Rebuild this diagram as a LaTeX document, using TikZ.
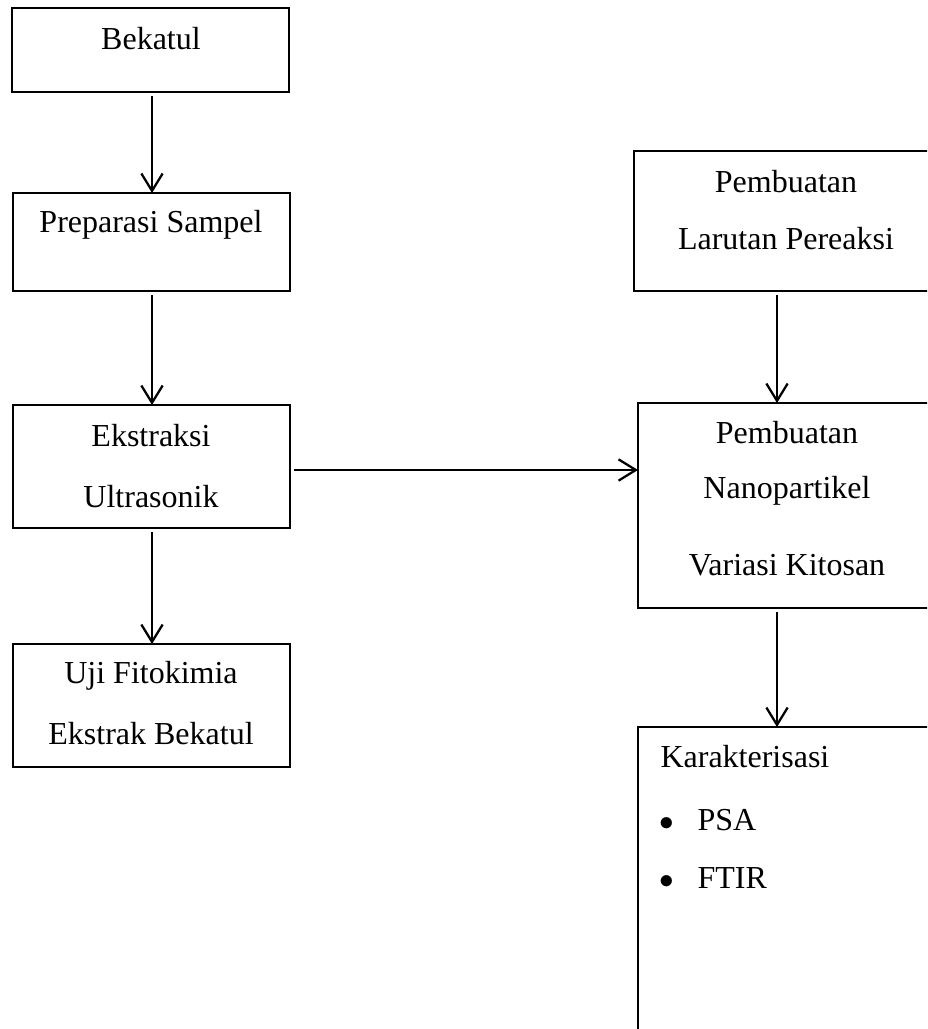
\documentclass[tikz,border=0pt]{standalone}
\usepackage{fontspec}
\setmainfont{Liberation Serif}
\usetikzlibrary{arrows.meta}
\newcommand{\px}{0.375pt}

\begin{document}
\begin{tikzpicture}[x=\px, y=-\px,
  box/.style={draw, line width=1pt, rectangle, inner sep=0pt, outer sep=0pt, anchor=north west},
  txt/.style={anchor=base, inner sep=0pt, font=\fontsize{12}{14}\selectfont},
  flow/.style={line width=0.85pt, -{Straight Barb[length=6.5pt, width=8pt, line width=0.85pt]}, shorten <=1.5pt}]
\useasboundingbox (0, 0) rectangle (927, 1029);
\clip (0, 0) rectangle (927, 1029);
\node[box, minimum width=277*\px, minimum height=84*\px] (bekatul) at (12, 8) {};
\node[txt] (tbekatul) at (151, 50) {Bekatul};
\node[box, minimum width=277*\px, minimum height=98*\px] (preparasi) at (13, 193) {};
\node[txt] (tpreparasi) at (151, 233) {Preparasi Sampel};
\node[box, minimum width=277*\px, minimum height=123*\px] (ekstraksi) at (13, 405) {};
\node[txt] (tekstraksi) at (151, 446) {Ekstraksi};
\node[txt] (tultrasonik) at (151, 507) {Ultrasonik};
\node[box, minimum width=277*\px, minimum height=123*\px] (uji) at (13, 644) {};
\node[txt] (tuji) at (151, 683) {Uji Fitokimia};
\node[txt] (tekstrak) at (151, 744) {Ekstrak Bekatul};
\node[box, minimum width=302*\px, minimum height=140*\px] (larutan) at (634, 151) {};
\node[txt] (tpembuatana) at (786, 193) {Pembuatan};
\node[txt] (tlarutan) at (786, 250) {Larutan Pereaksi};
\node[box, minimum width=298*\px, minimum height=205*\px] (nano) at (638, 403) {};
\node[txt] (tpembuatanb) at (787, 443) {Pembuatan};
\node[txt] (tnano) at (787, 498) {Nanopartikel};
\node[txt] (tvariasi) at (787, 575) {Variasi Kitosan};
\node[box, minimum width=298*\px, minimum height=340*\px] (karakter) at (638, 727) {};
\node[txt, anchor=base west] (tkarakter) at (660, 767) {Karakterisasi};
\node[txt, font=\fontsize{11}{12}\selectfont] (bpsa) at (667, 830) {$\bullet$};
\node[txt, anchor=base west] (tpsa) at (697, 830) {PSA};
\node[txt, font=\fontsize{11}{12}\selectfont] (bftir) at (667, 888) {$\bullet$};
\node[txt, anchor=base west] (tftir) at (697, 888) {FTIR};
\coordinate (kiri) at (152, 0);
\coordinate (kanan) at (777, 0);
\draw[flow] (bekatul.south -| kiri) -- (preparasi.north -| kiri);
\draw[flow] (preparasi.south -| kiri) -- (ekstraksi.north -| kiri);
\draw[flow] (ekstraksi.south -| kiri) -- (uji.north -| kiri);
\draw[flow] (ekstraksi.east |- 0, 470) -- (nano.west |- 0, 470);
\draw[flow] (larutan.south -| kanan) -- (nano.north -| kanan);
\draw[flow] (nano.south -| kanan) -- (karakter.north -| kanan);
\end{tikzpicture}
\end{document}
